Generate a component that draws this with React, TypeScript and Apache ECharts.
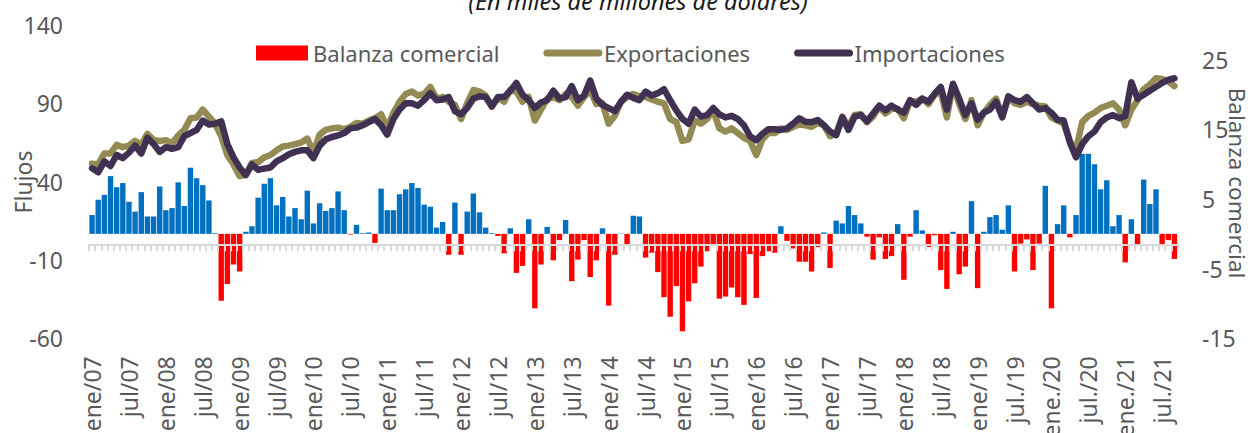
import React, { useEffect, useRef } from "react";
import * as echarts from "echarts";

const MONTHS = ["ene", "feb", "mar", "abr", "may", "jun", "jul", "ago", "sep", "oct", "nov", "dic"];
const YEARS = ["07", "08", "09", "10", "11", "12", "13", "14", "15", "16", "17", "18", "19", "20", "21"];
const LAST_MONTH_2021 = 8; // sep/21

const categories: string[] = [];
YEARS.forEach((yy, yi) => {
  MONTHS.forEach((mm, mi) => {
    if (yy === "21" && mi > LAST_MONTH_2021) return;
    const year = 2007 + yi;
    const dotted = year > 2019 || (year === 2019 && mi >= 6);
    categories.push(dotted ? `${mm}./${yy}` : `${mm}/${yy}`);
  });
});

// Balanza comercial (right axis)
const balanza = [
  2.7, 4.9, 5.6, 8.3, 6.7, 7.3, 4.6, 3.2, 6.0, 2.5, 2.5, 6.8,
  3.4, 3.7, 7.4, 4.0, 9.5, 8.0, 7.0, 4.8, 0.1, -9.6, -7.2, -4.4,
  -5.4, 0.3, 1.1, 5.2, 7.2, 8.0, 4.1, 5.3, 2.5, 3.7, 2.1, 6.2,
  1.5, 4.4, 3.3, 3.7, 6.1, 3.4, -0.1, 1.3, 0.1, 0.2, -1.3, 6.5,
  3.4, 3.4, 5.7, 6.4, 7.3, 6.6, 4.2, 3.9, 0.9, 1.7, -3.0, 4.5,
  -3.0, 3.2, 5.8, 3.1, 0.9, 0.1, -0.3, -2.8, 0.8, -5.6, -4.6, 2.1,
  -10.7, -4.4, 1.0, -3.8, -0.9, 2.0, -6.8, -3.7, -0.9, -6.2, -3.8, 0.8,
  -10.3, -3.0, 0.05, -1.6, 2.6, 2.5, -3.4, -2.7, -5.5, -9.1, -11.9, -7.5,
  -14.0, -9.7, -7.1, -4.7, -2.5, -1.5, -9.3, -9.0, -7.7, -9.1, -10.2, -2.9,
  -9.2, -3.2, -2.5, -2.7, 1.1, -1.0, -2.1, -4.0, -4.0, -5.4, -1.9, 0.2,
  -4.9, 1.9, 1.5, 4.0, 2.7, 1.5, -0.4, -3.7, -0.5, -3.6, -3.2, 1.4,
  -6.6, -0.4, 3.4, 0.5, -1.9, -0.2, -5.2, -7.9, 0.3, -5.8, -4.7, 4.7,
  -7.8, 0.3, 2.4, 2.7, 0.6, 4.1, -5.4, -1.4, -0.8, -5.2, -1.4, 6.9,
  -10.7, 1.4, 4.1, -0.5, 2.7, 11.5, 11.5, 10.0, 6.4, 7.7, 1.1, 2.7,
  -4.1, 2.1, -1.6, 7.8, 4.3, 6.4, -1.5, -0.9, -3.6,
];

// Exportaciones (left axis)
const exportaciones = [
  51.5, 51, 58, 58, 63.5, 62, 63, 66, 63.5, 70.5, 66.5, 66,
  66.5, 64.5, 69.5, 73, 80.5, 81, 86, 81.5, 77, 69, 57, 51,
  43.5, 44.5, 52, 52.5, 55.5, 57, 60, 62.5, 63, 64, 65, 67.5,
  58.5, 70, 73, 74, 74.5, 73.5, 75, 77.5, 77, 79, 80.5, 83,
  74.5, 84, 91, 96, 97.5, 95, 96, 100.5, 93, 94, 91, 89,
  80, 90, 98.5, 97.5, 95, 88, 93.5, 91, 98.5, 97.5, 91, 94,
  79, 86, 93, 94, 92, 96, 94, 88.5, 94, 98.5, 89.5, 90,
  77, 82, 91, 94, 96, 94.5, 94, 92.5, 91, 90, 80, 78,
  66, 67, 79, 77, 80, 85.5, 74, 72, 74, 71, 68, 66,
  57, 67, 71, 71, 74, 73, 75, 76.5, 76, 75, 77.5, 76,
  69, 70.5, 81.5, 75, 82.5, 83, 78, 81.5, 88, 83.5, 86.5, 86.5,
  80.5, 91.5, 91, 93, 89.5, 95.5, 97.5, 81, 102, 89.5, 80, 92,
  76, 84, 89, 93, 81.5, 94, 90, 89, 91, 89.5, 88.5, 88,
  81, 79, 77, 66, 60, 78, 82, 84, 87, 88.5, 90, 86,
  76, 86, 92, 99, 102, 106, 105.5, 104, 101,
];

// Importaciones (left axis)
const importaciones = [
  48.5, 46, 53, 50, 57, 55, 58.5, 63, 58, 68, 64, 59,
  62, 61, 62, 69, 71, 73, 79, 76.5, 77, 78.5, 64, 55.5,
  49, 44.2, 51, 47.5, 48.3, 49, 53, 55, 57.5, 59, 60, 60,
  55, 63, 67, 68.5, 69.5, 71, 74, 74.5, 76, 78, 80, 76,
  70, 80, 86, 90, 90, 88.5, 92, 96.5, 92, 92.5, 94, 85,
  83, 87, 93, 94.5, 94, 88, 94, 94, 98, 103, 95.5, 92,
  87, 90.5, 92, 98, 93, 94, 101, 92, 95, 104.5, 93, 89,
  87, 85, 91, 95.5, 93.5, 92, 97.5, 95, 96.5, 99, 92, 85.5,
  80, 77, 86, 81.5, 82.5, 87, 83, 81, 82, 80, 76, 69,
  66.5, 70.5, 73.5, 73.5, 73, 74, 77, 80.5, 78.2, 78, 79.3, 76,
  72, 69.7, 81, 73, 81.5, 82.5, 78.5, 83.5, 88.5, 85.5, 88.5, 86,
  84, 92, 89, 93, 91, 96, 100.5, 86, 102.5, 93, 82.5, 90,
  79.5, 84, 86, 91, 81, 94.5, 92, 91, 94, 90, 86, 87,
  84, 79.5, 79, 65, 55.5, 64, 69, 72, 78, 81, 82.5, 80.5,
  82, 103.5, 93, 95.5, 98, 100.5, 103, 105, 106,
];

const BLUE = "#0070C0";
const RED = "#FF0000";
const OLIVE = "#948A54";
const PURPLE = "#403152";
const GRAY_TEXT = "#595959";
const FONT = "Noto Sans";

export default function App() {
  const ref = useRef<HTMLDivElement>(null);

  useEffect(() => {
    if (!ref.current) return;
    const chart = echarts.init(ref.current, undefined, { renderer: "svg" });
    const option: any = {
      animation: false,
      backgroundColor: "#ffffff",
      textStyle: { fontFamily: FONT },
      grid: {
        left: 89,
        right: 70.5,
        top: 25,
        bottom: 94.7,
        containLabel: false,
        outerBoundsMode: "none",
      },
      legend: {
        left: 251,
        top: 37,
        padding: 5,
        itemWidth: 52,
        itemHeight: 15,
        itemGap: 44,
        selectedMode: false,
        textStyle: { fontSize: 22, color: GRAY_TEXT, fontFamily: FONT },
        lineStyle: { width: 7, cap: "round" },
        data: [
          { name: "Balanza comercial", icon: "rect", itemStyle: { color: RED } },
          { name: "Exportaciones", itemStyle: { opacity: 0 } },
          { name: "Importaciones", itemStyle: { opacity: 0 } },
        ],
      },
      graphic: [
        {
          type: "text",
          x: 638,
          y: 1,
          style: {
            text: "(En miles de millones de dólares)",
            fontSize: 23.5,
            fontStyle: "italic",
            fontFamily: FONT,
            fill: "#1a1a1a",
            align: "center",
            verticalAlign: "middle",
          },
        },
        {
          type: "text",
          x: 23,
          y: 182,
          rotation: Math.PI / 2,
          style: {
            text: "Flujos",
            fontSize: 23,
            fontFamily: FONT,
            fill: GRAY_TEXT,
            align: "center",
            verticalAlign: "middle",
          },
        },
        {
          type: "text",
          x: 1237,
          y: 183,
          rotation: -Math.PI / 2,
          style: {
            text: "Balanza comercial",
            fontSize: 22.5,
            fontFamily: FONT,
            fill: GRAY_TEXT,
            align: "center",
            verticalAlign: "middle",
          },
        },
      ],
      xAxis: [
        {
          type: "category",
          data: categories,
          boundaryGap: true,
          axisLine: { show: false, onZero: false },
          axisTick: { show: false },
          splitLine: { show: false },
          axisLabel: {
            interval: 5,
            rotate: 90,
            margin: 18,
            fontSize: 23,
            color: GRAY_TEXT,
            fontFamily: FONT,
          },
        },
        {
          type: "category",
          data: categories,
          position: "bottom",
          boundaryGap: true,
          z: 10,
          axisLine: {
            show: true,
            onZero: true,
            onZeroAxisIndex: 0,
            lineStyle: { color: "#D9D9D9", width: 2 },
          },
          axisTick: {
            show: true,
            interval: 0,
            length: 7,
            lineStyle: { color: "#D9D9D9", width: 2 },
          },
          axisLabel: { show: false },
          splitLine: { show: false },
        },
      ],
      yAxis: [
        {
          type: "value",
          position: "left",
          min: -60,
          max: 140,
          interval: 50,
          axisLine: { show: false },
          axisTick: { show: false },
          splitLine: { show: false },
          axisLabel: { fontSize: 23, color: GRAY_TEXT, margin: 26, fontFamily: FONT },
        },
        {
          type: "value",
          position: "right",
          min: -15,
          max: 30,
          interval: 10,
          axisLine: { show: false },
          axisTick: { show: false },
          splitLine: { show: false },
          axisLabel: {
            fontSize: 23,
            color: GRAY_TEXT,
            margin: 24.5,
            fontFamily: FONT,
            showMaxLabel: false,
          },
        },
      ],
      series: [
        {
          name: "Balanza comercial",
          type: "bar",
          xAxisIndex: 0,
          yAxisIndex: 1,
          barCategoryGap: "12%",
          itemStyle: { color: RED },
          data: balanza.map((v) => ({
            value: v,
            itemStyle: { color: v >= 0 ? BLUE : RED },
          })),
        },
        {
          name: "Exportaciones",
          type: "line",
          xAxisIndex: 0,
          yAxisIndex: 0,
          data: exportaciones,
          symbol: "none",
          z: 3,
          itemStyle: { color: OLIVE },
          lineStyle: { color: OLIVE, width: 6.5, cap: "round", join: "round" },
        },
        {
          name: "Importaciones",
          type: "line",
          xAxisIndex: 0,
          yAxisIndex: 0,
          data: importaciones,
          symbol: "none",
          z: 4,
          itemStyle: { color: PURPLE },
          lineStyle: { color: PURPLE, width: 6.5, cap: "round", join: "round" },
        },
      ],
    };
    chart.setOption(option);
    return () => chart.dispose();
  }, []);

  return (
    <div
      ref={ref}
      style={{ position: "absolute", left: 0, top: 0, width: 1248, height: 433, background: "#fff" }}
    />
  );
}
